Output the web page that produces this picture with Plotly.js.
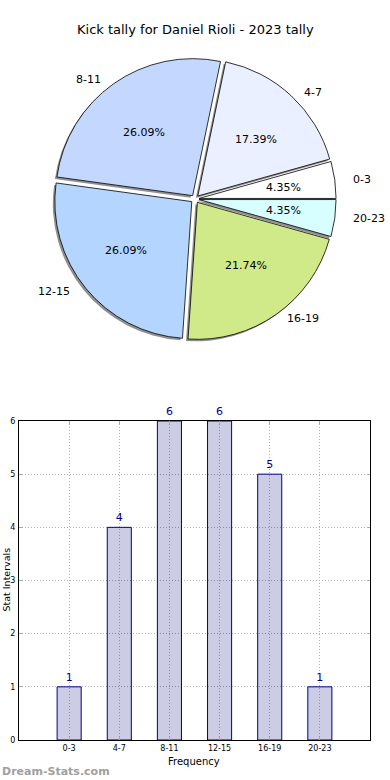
<!DOCTYPE html>
<html><head><meta charset="utf-8">
<script src="https://cdn.plot.ly/plotly-3.0.1.min.js"></script>
<style>html,body{margin:0;padding:0;background:#fff}#c{width:390px;height:780px}</style>
</head><body><div id="c"></div>
<script>
const categories = ['0-3', '4-7', '8-11', '12-15', '16-19', '20-23'];
const counts = [1, 4, 6, 6, 5, 1];
const pieColors = ['#ffffff', '#eaf0ff', '#c4d8ff', '#b4d5ff', '#d0ea8a', '#d8ffff'];
const chartTitle = 'Kick tally for Daniel Rioli - 2023 tally';
const yTitle = 'Stat Intervals';
const xTitle = 'Frequency';
const watermark = 'Dream-Stats.com';

const W = 390, H = 780;
const px = x => x / W, py = y => 1 - y / H;
const FONT = 'DejaVu Sans, sans-serif';

// pie geometry (pixels)
const cx = 195, cy = 199, R = 137, PULL = 0.03;
const half = R * (1 + PULL);
const pieDomain = {x: [px(cx - half), px(cx + half)], y: [py(cy + half), py(cy - half)]};
const sh = 2;
const shadowDomain = {x: [px(cx - half - sh), px(cx + half - sh)], y: [py(cy + half + sh), py(cy - half + sh)]};
// text placement radii (the reference pie is slightly wider than tall)
const RX = 140, RY = 128, EXP = 5;

// reversed order + clockwise from 3 o'clock == counterclockwise order from 3 o'clock
const rCats = categories.slice().reverse();
const rCounts = counts.slice().reverse();
const rColors = pieColors.slice().reverse();

const total = counts.reduce((a, b) => a + b, 0);
const annotations = [];
let acc = 0;
counts.forEach((v, i) => {
  const mid = (acc + v / 2) / total * 2 * Math.PI;
  acc += v;
  const c = Math.cos(mid), s = Math.sin(mid);
  annotations.push({xref: 'paper', yref: 'paper', x: px(cx + (1.1 * RX + EXP) * c - (c > 0 ? 2 : 0)), y: py(cy - (1.1 * RY + EXP) * s),
    text: categories[i], showarrow: false, xanchor: c > 0 ? 'left' : 'right', yanchor: 'middle',
    font: {family: FONT, size: 11, color: '#000'}});
  annotations.push({xref: 'paper', yref: 'paper', x: px(cx + (0.6 * RX + EXP) * c), y: py(cy - (0.6 * RY + EXP) * s),
    text: (v / total * 100).toFixed(2) + '%', showarrow: false, xanchor: 'center', yanchor: 'middle',
    font: {family: FONT, size: 11, color: '#000'}});
});
annotations.push({xref: 'paper', yref: 'paper', x: px(195), y: py(30), text: chartTitle, showarrow: false,
  xanchor: 'center', yanchor: 'middle', font: {family: FONT, size: 13, color: '#000'}});
annotations.push({xref: 'paper', yref: 'paper', x: px(5.5), y: py(580), text: yTitle, showarrow: false, textangle: -90,
  xanchor: 'center', yanchor: 'middle', font: {family: FONT, size: 9.5, color: '#000'}});
annotations.push({xref: 'paper', yref: 'paper', x: px(194), y: py(761), text: xTitle, showarrow: false,
  xanchor: 'center', yanchor: 'middle', font: {family: FONT, size: 10, color: '#000'}});
annotations.push({xref: 'paper', yref: 'paper', x: px(0), y: py(771), text: '<b>' + watermark + '</b>', showarrow: false,
  xanchor: 'left', yanchor: 'middle', font: {family: FONT, size: 11, color: '#a0a0a0'}});

const shadow = {type: 'pie', labels: rCats, values: rCounts, sort: false, direction: 'clockwise', rotation: 90,
  pull: PULL, domain: shadowDomain, textinfo: 'none', hoverinfo: 'skip', showlegend: false,
  marker: {colors: rCats.map(() => 'rgba(70,70,70,0.6)'), line: {width: 0}}};
const pie = {type: 'pie', labels: rCats, values: rCounts, sort: false, direction: 'clockwise', rotation: 90,
  pull: PULL, domain: pieDomain, textinfo: 'none', hoverinfo: 'skip', showlegend: false,
  marker: {colors: rColors, line: {color: '#000', width: 0.8}}};
const bars = {type: 'bar', x: categories, y: counts, width: 0.48, text: counts.map(String), textposition: 'outside',
  cliponaxis: false, textfont: {family: FONT, size: 11, color: '#00008b'}, hoverinfo: 'skip', showlegend: false,
  marker: {color: 'rgba(0,0,120,0.2)', line: {color: '#00008b', width: 1}}};

const axisCommon = {showgrid: true, gridcolor: '#b0b0b0', griddash: '1px,2px', gridwidth: 1, showline: true,
  mirror: 'ticks', linecolor: '#000', linewidth: 1, zeroline: false, ticks: 'inside', ticklen: 3, tickcolor: '#aaa',
  tickfont: {family: FONT, size: 8, color: '#000'}, fixedrange: true};
const layout = {
  width: W, height: H, margin: {l: 0, r: 0, t: 0, b: 0}, paper_bgcolor: '#fff', plot_bgcolor: '#fff',
  showlegend: false, annotations: annotations,
  xaxis: Object.assign({domain: [px(19), px(370)], type: 'category', range: [-1, 6]}, axisCommon),
  yaxis: Object.assign({domain: [py(740), py(421)], range: [0, 6], dtick: 1, ticklabelstandoff: 1}, axisCommon)
};
Plotly.newPlot('c', [shadow, pie, bars], layout, {staticPlot: true, displayModeBar: false});
</script></body></html>
